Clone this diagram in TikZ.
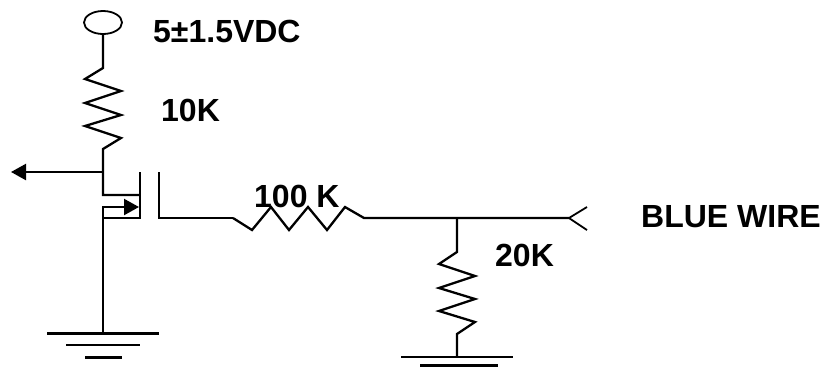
\documentclass[tikz,border=0pt]{standalone}
\usepackage{fontspec}
\setmainfont{Liberation Sans}
\usetikzlibrary{arrows.meta,shapes.geometric}
\tikzset{
  wire/.style={draw=black,line width=2.3pt,line join=miter},
  thin wire/.style={draw=black,line width=1.8pt},
  thick wire/.style={draw=black,line width=3pt},
  lbl/.style={font=\fontsize{32}{36}\selectfont\bfseries,inner sep=0pt,anchor=base west,text=black},
  head/.style={-{Triangle[length=15pt,width=16pt]}}
}
\begin{document}
\begin{tikzpicture}[x=1pt,y=-1pt]
\useasboundingbox (0,0) rectangle (821,376);
% supply terminal
\node[draw=black,line width=1.8pt,ellipse,minimum width=38pt,minimum height=23pt,inner sep=0pt] (vcc) at (103,22.5) {};
% named points
\coordinate (r1a) at (103,68);
\coordinate (r1b) at (103,149);
\coordinate (tap) at (103,172);
\coordinate (out) at (11,172);
\coordinate (drain) at (103,195);
\coordinate (chd) at (140,195);
\coordinate (chtop) at (140,172);
\coordinate (chbot) at (140,218);
\coordinate (body) at (103,207);
\coordinate (bodyt) at (139,207);
\coordinate (g1) at (103,334);
\coordinate (gatetop) at (159,172);
\coordinate (gatebot) at (159,218);
\coordinate (r2a) at (233,218);
\coordinate (r2b) at (364,218);
\coordinate (jn) at (457,218);
\coordinate (plug) at (569,218);
\coordinate (r3a) at (457,252);
\coordinate (r3b) at (457,334);
\coordinate (g2) at (457,357);
% upper resistor
\draw[wire] (vcc.south) -- (r1a) -- (85,79) -- (121,91) -- (85,103) -- (121,115) -- (85,126) -- (121,138) -- (r1b) -- (drain) -- (chd);
\draw[wire,head] (tap) -- (out);
% transistor
\draw[wire] (chtop) -- (chbot) -- (104,218);
\draw[wire,head] (g1) -- (body) -- (bodyt);
\draw[wire] (gatetop) -- (gatebot) -- (r2a);
% series resistor
\draw[wire] (r2a) -- (252,230) -- (271,207) -- (289,230) -- (308,207) -- (327,230) -- (345,207) -- (r2b) -- (plug);
\draw[wire,line width=1.8pt] (587,207) -- (plug) -- (587,230);
% lower resistor
\draw[wire] (jn) -- (r3a) -- (439,264) -- (475,276) -- (439,288) -- (475,299) -- (439,311) -- (475,322) -- (r3b) -- (g2);
% grounds
\draw[wire] (47,333.5) -- (159,333.5);
\draw[thin wire] (66,345) -- (140,345);
\draw[thick wire] (85,357) -- (122,357);
\draw[wire] (401,357) -- (513,357);
\draw[thick wire] (420,365) -- (498,365);
% labels
\node[lbl] (l1) at (153,42) {5±1.5VDC};
\node[lbl] (l2) at (161,121) {10K};
\node[lbl] (l3) at (254,207) {100 K};
\node[lbl] (l4) at (641,227) {BLUE WIRE};
\node[lbl] (l5) at (495,266) {20K};
\end{tikzpicture}
\end{document}
